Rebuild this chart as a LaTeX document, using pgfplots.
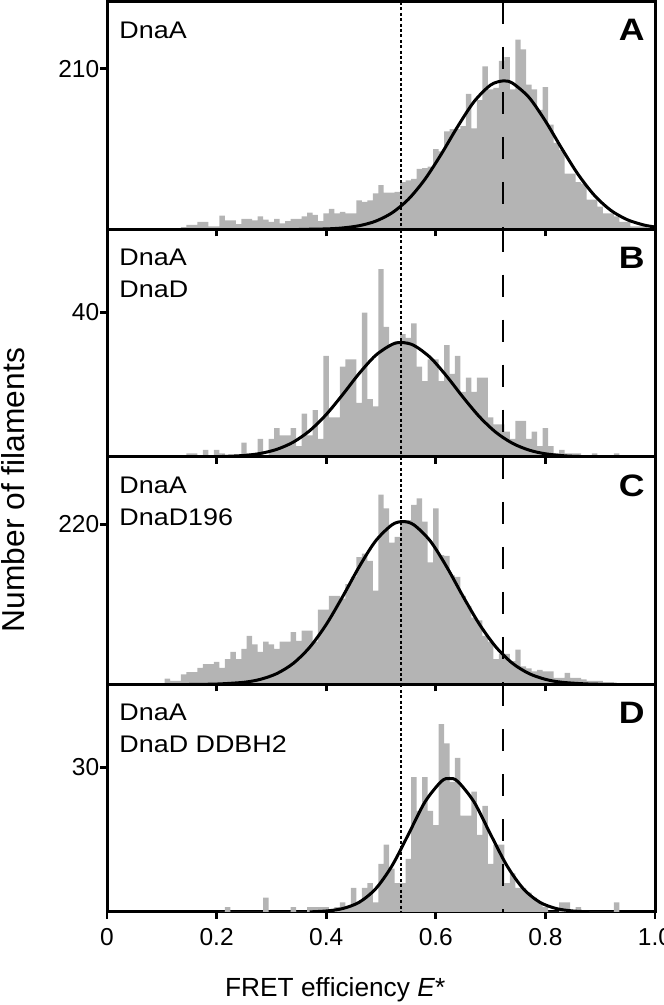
\documentclass[border=0pt]{standalone}
\usepackage{pgfplots}
\pgfplotsset{compat=1.18}
\usepackage{fontspec}
\setmainfont{Liberation Sans}
\definecolor{histgray}{RGB}{180,180,180}

\pgfplotstableread{
x y
0.065 0
0.075 1
0.085 1
0.095 0
0.105 0
0.115 1
0.125 1
0.135 3
0.145 6
0.155 6
0.165 10
0.175 10
0.185 4
0.195 4
0.205 18
0.215 12
0.225 12
0.235 7
0.245 14
0.255 14
0.265 12
0.275 17
0.285 13
0.295 10
0.305 14
0.315 8
0.325 11
0.335 14
0.345 14
0.355 17
0.365 22
0.375 19
0.385 11
0.395 21
0.405 27
0.415 21
0.425 23
0.435 21
0.445 21
0.455 38
0.465 36
0.475 38
0.485 47
0.495 58
0.505 48
0.515 48
0.525 49
0.535 62
0.545 64
0.555 66
0.565 79
0.575 80
0.585 82
0.595 105
0.605 102
0.615 128
0.625 131
0.635 131
0.645 135
0.655 177
0.665 132
0.675 169
0.685 213
0.695 183
0.705 185
0.715 220
0.725 225
0.735 183
0.745 248
0.755 235
0.765 189
0.775 183
0.785 156
0.795 186
0.805 137
0.815 113
0.825 104
0.835 73
0.845 73
0.855 62
0.865 60
0.875 39
0.885 39
0.895 30
0.905 21
0.915 21
0.925 17
0.935 10
0.945 10
0.955 4
0.965 4
0.975 4
0.985 2
0.995 1
1.005 0
}\histA

\pgfplotstableread{
x y
0.135 0
0.145 1
0.155 1
0.165 0
0.175 2
0.185 0
0.195 2
0.205 1
0.215 0
0.225 0
0.235 0
0.245 4
0.255 1
0.265 1
0.275 5
0.285 0
0.295 5
0.305 8
0.315 6
0.325 6
0.335 8
0.345 3
0.355 12
0.365 6
0.375 13
0.385 5
0.395 28
0.405 11
0.415 11
0.425 25
0.435 27
0.445 27
0.455 15
0.465 40
0.475 16
0.485 14
0.495 52
0.505 36
0.515 31
0.525 32
0.535 34
0.545 33
0.555 37
0.565 25
0.575 21
0.585 27
0.595 27
0.605 21
0.615 31
0.625 23
0.635 28
0.645 18
0.655 22
0.665 18
0.675 22
0.685 22
0.695 11
0.705 9
0.715 9
0.725 7
0.735 5
0.745 10
0.755 10
0.765 5
0.775 7
0.785 3
0.795 8
0.805 3
0.815 1
0.825 2
0.835 1
0.845 1
0.855 1
0.865 0
0.875 0
0.885 1
0.895 0
0.905 0
0.915 0
0.925 1
0.935 0
}\histB

\pgfplotstableread{
x y
0.085 0
0.095 2
0.105 8
0.115 5
0.125 5
0.135 14
0.145 17
0.155 17
0.165 23
0.175 28
0.185 28
0.195 31
0.205 23
0.215 35
0.225 45
0.235 35
0.245 49
0.255 67
0.265 55
0.275 45
0.285 59
0.295 55
0.305 49
0.315 59
0.325 59
0.335 72
0.345 60
0.355 74
0.365 74
0.375 59
0.385 103
0.395 103
0.405 122
0.415 122
0.425 118
0.435 138
0.445 148
0.455 175
0.465 180
0.475 170
0.485 129
0.495 261
0.505 242
0.515 195
0.525 203
0.535 226
0.545 226
0.555 247
0.565 256
0.575 224
0.585 168
0.595 242
0.605 178
0.615 177
0.625 150
0.635 148
0.645 122
0.655 108
0.665 92
0.675 88
0.685 67
0.695 59
0.705 35
0.715 42
0.725 42
0.735 32
0.745 48
0.755 25
0.765 22
0.775 18
0.785 20
0.795 18
0.805 18
0.815 9
0.825 9
0.835 16
0.845 9
0.855 9
0.865 7
0.875 5
0.885 5
0.895 5
0.905 3
0.915 3
0.925 2
0.935 2
0.945 0
}\histC

\pgfplotstableread{
x y
0.205 0
0.215 1
0.225 0
0.235 0
0.245 0
0.255 0
0.265 0
0.275 0
0.285 3
0.295 0
0.305 0
0.315 0
0.325 0
0.335 1
0.345 0
0.355 0
0.365 1
0.375 1
0.385 1
0.395 1
0.405 0
0.415 1
0.425 2
0.435 1
0.445 5
0.455 2
0.465 5
0.475 6
0.485 2
0.495 10
0.505 14
0.515 9
0.525 6
0.535 6
0.545 11
0.555 28
0.565 21
0.575 28
0.585 21
0.595 18
0.605 39
0.615 35
0.625 27
0.635 32
0.645 20
0.655 20
0.665 25
0.675 16
0.685 22
0.695 10
0.705 14
0.715 14
0.725 6
0.735 8
0.745 5
0.755 5
0.765 4
0.775 3
0.785 2
0.795 1
0.805 0
0.815 0
0.825 2
0.835 2
0.845 0
0.855 1
0.865 0
0.875 0
0.885 0
0.895 0
0.905 0
0.915 0
0.925 2
0.935 0
}\histD

\pgfplotsset{
  panel/.style={
    scale only axis, width=548pt, height=227.5pt,
    xmin=0, xmax=1, ymin=0,
    line width=3pt,
    axis line style={line width=3pt, line cap=rect},
    xtick={0,0.2,0.4,0.6,0.8,1.0},
    xticklabels={},
    xtick pos=bottom, ytick pos=left, tick align=outside,
    major tick length=7pt,
    every tick/.style={black, line width=2.8pt},
    major tick style={black, line width=2.8pt},
    tick label style={font=\fontsize{24.5}{28}\selectfont},
    xticklabel style={yshift=-5pt},
    yticklabel style={xshift=4pt},
    anchor=south west,
  },
  hist/.style={const plot mark left, fill=histgray, draw=none},
  fit/.style={black, line width=3pt, smooth},
  dotline/.style={black, line width=2.3pt, dash pattern=on 3pt off 2.4pt},
  dashline/.style={black, line width=2.3pt, dash pattern=on 22pt off 23pt},
}

\newcommand{\paneltext}[1]{\node[anchor=north west, inner sep=0pt, align=left, font=\fontsize{24}{32}\selectfont] at ([xshift=11pt,yshift=-18pt]rel axis cs:0,1) {#1};}
\newcommand{\panelletter}[1]{\node[anchor=north east, inner sep=0pt, font=\bfseries\fontsize{31}{31}\selectfont] at ([xshift=-9pt,yshift=-16pt]rel axis cs:1,1) {\scalebox{1.15}[1]{#1}};}

\begin{document}
\begin{tikzpicture}[x=1pt,y=1pt]
\path[use as bounding box] (0,0) rectangle (664,1005);

% Panel A
\begin{axis}[panel, at={(107pt,775.5pt)}, ymax=297, ytick={210}, yticklabels={210}]
\addplot[hist] table {\histA} \closedcycle;
\addplot[dotline] coordinates {(0.536,297) (0.536,0)};
\addplot[dashline] coordinates {(0.723,297) (0.723,0)};
\addplot[fit] coordinates {(0.35,0.12) (0.40,0.76) (0.43,2.03) (0.46,4.92) (0.49,10.8) (0.52,21.7) (0.55,39.5) (0.58,65.4) (0.61,98.4) (0.64,134.5) (0.67,167.1) (0.70,188.6) (0.723,194) (0.74,191.0) (0.77,172.5) (0.80,141.6) (0.83,105.6) (0.86,71.6) (0.89,44.1) (0.92,24.7) (0.95,12.6) (0.98,5.8) (1.00,3.3)};
\paneltext{\scalebox{1.12}[1]{DnaA}}
\panelletter{A}
\end{axis}

% Panel B
\begin{axis}[panel, at={(107pt,548pt)}, ymax=63, ytick={40}, yticklabels={40}]
\addplot[hist] table {\histB} \closedcycle;
\addplot[dotline] coordinates {(0.536,63) (0.536,0)};
\addplot[dashline] coordinates {(0.723,63) (0.723,0)};
\addplot[fit] coordinates {(0.20,0.08) (0.25,0.42) (0.28,0.99) (0.31,2.12) (0.34,4.12) (0.37,7.30) (0.40,11.76) (0.43,17.27) (0.46,23.10) (0.49,28.12) (0.52,31.17) (0.538,31.7) (0.56,30.91) (0.59,27.54) (0.62,22.34) (0.65,16.50) (0.68,11.09) (0.71,6.79) (0.74,3.79) (0.77,1.92) (0.80,0.89) (0.84,0.27) (0.88,0.07)};
\paneltext{\scalebox{1.12}[1]{DnaA}\\\scalebox{1.12}[1]{DnaD}}
\panelletter{B}
\end{axis}

% Panel C
\begin{axis}[panel, at={(107pt,320.5pt)}, ymax=312.8, ytick={220}, yticklabels={220}]
\addplot[hist] table {\histC} \closedcycle;
\addplot[dotline] coordinates {(0.536,312.8) (0.536,0)};
\addplot[dashline] coordinates {(0.723,312.8) (0.723,0)};
\addplot[fit] coordinates {(0.15,0.10) (0.20,0.62) (0.25,3.07) (0.28,7.12) (0.31,15.07) (0.34,29.1) (0.37,51.3) (0.40,82.4) (0.43,120.8) (0.46,161.6) (0.49,197.2) (0.52,219.5) (0.54,224) (0.56,219.5) (0.59,197.2) (0.62,161.6) (0.65,120.8) (0.68,82.4) (0.71,51.3) (0.74,29.1) (0.77,15.07) (0.80,7.12) (0.83,3.07) (0.88,0.62) (0.93,0.10)};
\paneltext{\scalebox{1.12}[1]{DnaA}\\\scalebox{1.12}[1]{DnaD196}}
\panelletter{C}
\end{axis}

% Panel D
\begin{axis}[panel, at={(107pt,93pt)}, ymax=47.2, ytick={30}, yticklabels={30},
  xticklabels={0,0.2,0.4,0.6,0.8,1.0}]
\addplot[hist] table {\histD} \closedcycle;
\addplot[dotline] coordinates {(0.536,47.2) (0.536,0)};
\addplot[dashline] coordinates {(0.723,47.2) (0.723,0)};
\addplot[fit] coordinates {(0.37,0.03) (0.40,0.21) (0.43,0.71) (0.46,2.01) (0.49,4.78) (0.52,9.57) (0.55,16.10) (0.58,22.79) (0.61,27.10) (0.625,27.7) (0.64,27.10) (0.67,22.79) (0.70,16.10) (0.73,9.57) (0.76,4.78) (0.79,2.01) (0.82,0.71) (0.85,0.21) (0.88,0.05)};
\paneltext{\scalebox{1.12}[1]{DnaA}\\\scalebox{1.12}[1]{DnaD DDBH2}}
\panelletter{D}
\end{axis}

\node[rotate=90, anchor=base, inner sep=0pt] at (25,515) {\resizebox{284pt}{!}{Number of filaments}};
\node[anchor=base west, inner sep=0pt] at (225,8) {\resizebox{220pt}{!}{FRET efficiency \textit{E}*}};
\end{tikzpicture}
\end{document}
